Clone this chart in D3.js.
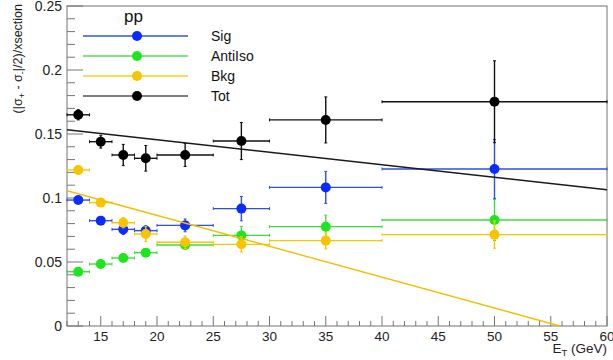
<!DOCTYPE html>
<html><head><meta charset="utf-8">
<script src="https://cdn.jsdelivr.net/npm/d3@7"></script>
<style>body{margin:0;background:#fff}svg{display:block;font-family:"Liberation Sans",Arial,sans-serif}</style>
</head><body><svg id="c" width="613" height="360"></svg>
<script>
const binCenter = [13, 15, 17, 19, 22.5, 27.5, 35, 50];
const binLow    = [12, 14, 16, 18, 20, 25, 30, 40];
const binHigh   = [14, 16, 18, 20, 25, 30, 40, 60];
const sig     = [0.0984, 0.0823, 0.0755, 0.0745, 0.0786, 0.0917, 0.1083, 0.1227];
const sigErr  = [0.002, 0.002, 0.004, 0.004, 0.005, 0.0095, 0.0125, 0.023];
const anti    = [0.0424, 0.0484, 0.0531, 0.0573, 0.0633, 0.0708, 0.0776, 0.0828];
const antiErr = [0.002, 0.002, 0.002, 0.003, 0.003, 0.007, 0.009, 0.016];
const bkg     = [0.1219, 0.0964, 0.0807, 0.0719, 0.0654, 0.0638, 0.0667, 0.0714];
const bkgErr  = [0.002, 0.003, 0.004, 0.006, 0.005, 0.006, 0.0065, 0.0107];
const tot     = [0.165, 0.144, 0.1336, 0.131, 0.1336, 0.1445, 0.161, 0.1752];
const totErr  = [0.004, 0.005, 0.0083, 0.01, 0.009, 0.0145, 0.018, 0.032];
const totFitX = [12, 60], totFitY = [0.1533, 0.1064];
const bkgFitX = [12, 55.8], bkgFitY = [0.1057, 0];
const xTicks = [15, 20, 25, 30, 35, 40, 45, 50, 55, 60];
const yTicks = [0, 0.05, 0.1, 0.15, 0.2, 0.25];
const yTickLabels = ["0", "0.05", "0.1", "0.15", "0.2", "0.25"];
const legendNames = ["Sig", "AntiIso", "Bkg", "Tot"];

const svg = d3.select("#c");
const L = 67, R = 607, T = 6, B = 326;
const x = d3.scaleLinear().domain([12, 60]).range([L, R]);
const y = d3.scaleLinear().domain([0, 0.25]).range([B, T]);

const colors = {sig: "#0a2cff", anti: "#1ee61e", bkg: "#f8c400", tot: "#000000"};
const lineColors = {sig: "#2e4fe0", anti: "#3fdc3f", bkg: "#f5c800", tot: "#111111"};

// frame
svg.append("rect").attr("x", L).attr("y", T).attr("width", R - L).attr("height", B - T)
  .attr("fill", "none").attr("stroke", "#8a8a8a").attr("stroke-width", 1.2);

// x ticks
const xMinor = d3.range(12, 61, 1);
svg.append("g").selectAll("line").data(xMinor).join("line")
  .attr("x1", d => x(d)).attr("x2", d => x(d))
  .attr("y1", B).attr("y2", d => d % 5 === 0 ? B - 10 : B - 5)
  .attr("stroke", "#777").attr("stroke-width", 1);
svg.append("g").selectAll("text").data(xTicks).join("text")
  .attr("x", d => x(d)).attr("y", 341).attr("text-anchor", "middle")
  .attr("font-size", 13.5).attr("fill", "#222").text(d => d);

// y ticks
const yMinor = d3.range(0, 26, 1).map(i => i * 0.01);
svg.append("g").selectAll("line").data(yMinor).join("line")
  .attr("x1", L).attr("x2", (d, i) => i % 5 === 0 ? L + 16 : L + 8)
  .attr("y1", d => y(d)).attr("y2", d => y(d))
  .attr("stroke", "#777").attr("stroke-width", 1);
svg.append("g").selectAll("text").data(yTicks).join("text")
  .attr("x", 62).attr("y", d => y(d) + 5).attr("text-anchor", "end")
  .attr("font-size", 14).attr("fill", "#222").text((d, i) => yTickLabels[i]);

// axis titles
const yt = svg.append("text").attr("transform", "translate(22,4) rotate(-90)")
  .attr("text-anchor", "end").attr("font-size", 12.5).attr("fill", "#222");
yt.append("tspan").text("(|σ");
yt.append("tspan").attr("font-size", 9).attr("dy", 3).text("+");
yt.append("tspan").attr("dy", -3).text(" - σ");
yt.append("tspan").attr("font-size", 9).attr("dy", 3).text("-");
yt.append("tspan").attr("dy", -3).text("|/2)/xsection");

const xt = svg.append("text").attr("x", 607).attr("y", 353).attr("text-anchor", "end")
  .attr("font-size", 13.5).attr("fill", "#222");
xt.append("tspan").text("E");
xt.append("tspan").attr("font-size", 9.5).attr("dy", 3).text("T");
xt.append("tspan").attr("dy", -3).text(" (GeV)");

// series drawing
function drawSeries(vals, errs, key) {
  const g = svg.append("g");
  const c = colors[key], lc = lineColors[key];
  vals.forEach((v, i) => {
    g.append("line").attr("x1", x(binLow[i])).attr("x2", x(binHigh[i]))
      .attr("y1", y(v)).attr("y2", y(v)).attr("stroke", lc).attr("stroke-width", 1.4);
    [binLow[i], binHigh[i]].forEach(e => g.append("line")
      .attr("x1", x(e)).attr("x2", x(e)).attr("y1", y(v) - 1.5).attr("y2", y(v) + 1.5)
      .attr("stroke", lc).attr("stroke-width", 1));
    g.append("line").attr("x1", x(binCenter[i])).attr("x2", x(binCenter[i]))
      .attr("y1", y(v + errs[i])).attr("y2", y(Math.max(0, v - errs[i])))
      .attr("stroke", lc).attr("stroke-width", 1.4);
    [v + errs[i], v - errs[i]].forEach(e => g.append("line")
      .attr("x1", x(binCenter[i]) - 1.5).attr("x2", x(binCenter[i]) + 1.5)
      .attr("y1", y(e)).attr("y2", y(e)).attr("stroke", lc).attr("stroke-width", 1));
  });
  g.selectAll("circle").data(vals).join("circle")
    .attr("cx", (d, i) => x(binCenter[i])).attr("cy", d => y(d)).attr("r", 5)
    .attr("fill", c);
}
function drawFit(fx, fy, col) {
  svg.append("path").attr("d", d3.line().x(d => x(d[0])).y(d => y(d[1]))(fx.map((v, i) => [v, fy[i]])))
    .attr("stroke", col).attr("stroke-width", 1.4).attr("fill", "none");
}
drawSeries(sig, sigErr, "sig");
drawSeries(anti, antiErr, "anti");
drawSeries(bkg, bkgErr, "bkg");
drawFit(bkgFitX, bkgFitY, "#f0c000");
drawSeries(tot, totErr, "tot");
drawFit(totFitX, totFitY, "#1a1a1a");

// legend
svg.append("text").attr("x", 124).attr("y", 22).attr("font-size", 17).attr("fill", "#111").text("pp");
const keys = ["sig", "anti", "bkg", "tot"];
const legendLine = ["#3355dd", "#55dd55", "#ffcc22", "#555"];
keys.forEach((k, i) => {
  const ly = 36 + i * 20;
  svg.append("line").attr("x1", 83).attr("x2", 188).attr("y1", ly).attr("y2", ly)
    .attr("stroke", legendLine[i]).attr("stroke-width", 1.4);
  svg.append("circle").attr("cx", 137).attr("cy", ly).attr("r", 5).attr("fill", colors[k]);
  svg.append("text").attr("x", 211).attr("y", ly + 5).attr("font-size", 14).attr("fill", "#111").text(legendNames[i]);
});
</script></body></html>
